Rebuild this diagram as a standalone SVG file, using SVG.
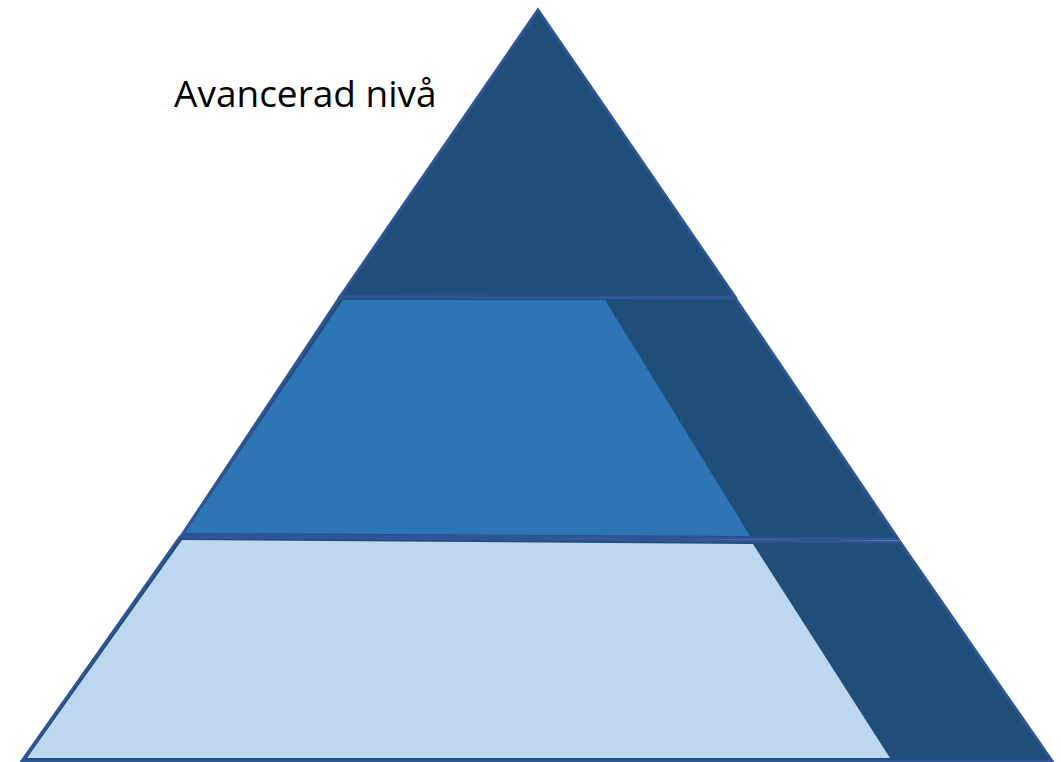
<svg xmlns="http://www.w3.org/2000/svg" width="1061" height="762" viewBox="0 0 1061 762">
<style>
.dark{fill:#1F4E79;stroke:#2F5597;stroke-width:3;stroke-linejoin:miter}
.mid{fill:#2E75B6}
.light{fill:#BDD7EE}
.lbl{font-family:"Open Sans","Noto Sans",sans-serif;font-size:37px;fill:#000}
</style>
<rect width="1061" height="762" fill="#fff"/>
<g id="top">
<polygon class="dark" points="538,10 735,297 340,297"/>
</g>
<g id="middle">
<polygon class="dark" points="340,297 735,298 898,539 182,535"/>
<polygon class="mid" points="343,300 605,300 750,536 185,533"/>
</g>
<g id="bottom">
<polygon class="dark" points="180,537 900,542 1052,761 22,761"/>
<polygon class="light" points="182,540 753,544 890,758 27,758"/>
</g>
<g id="label">
<text class="lbl" x="174" y="107">Avancerad nivå</text>
</g>
</svg>
